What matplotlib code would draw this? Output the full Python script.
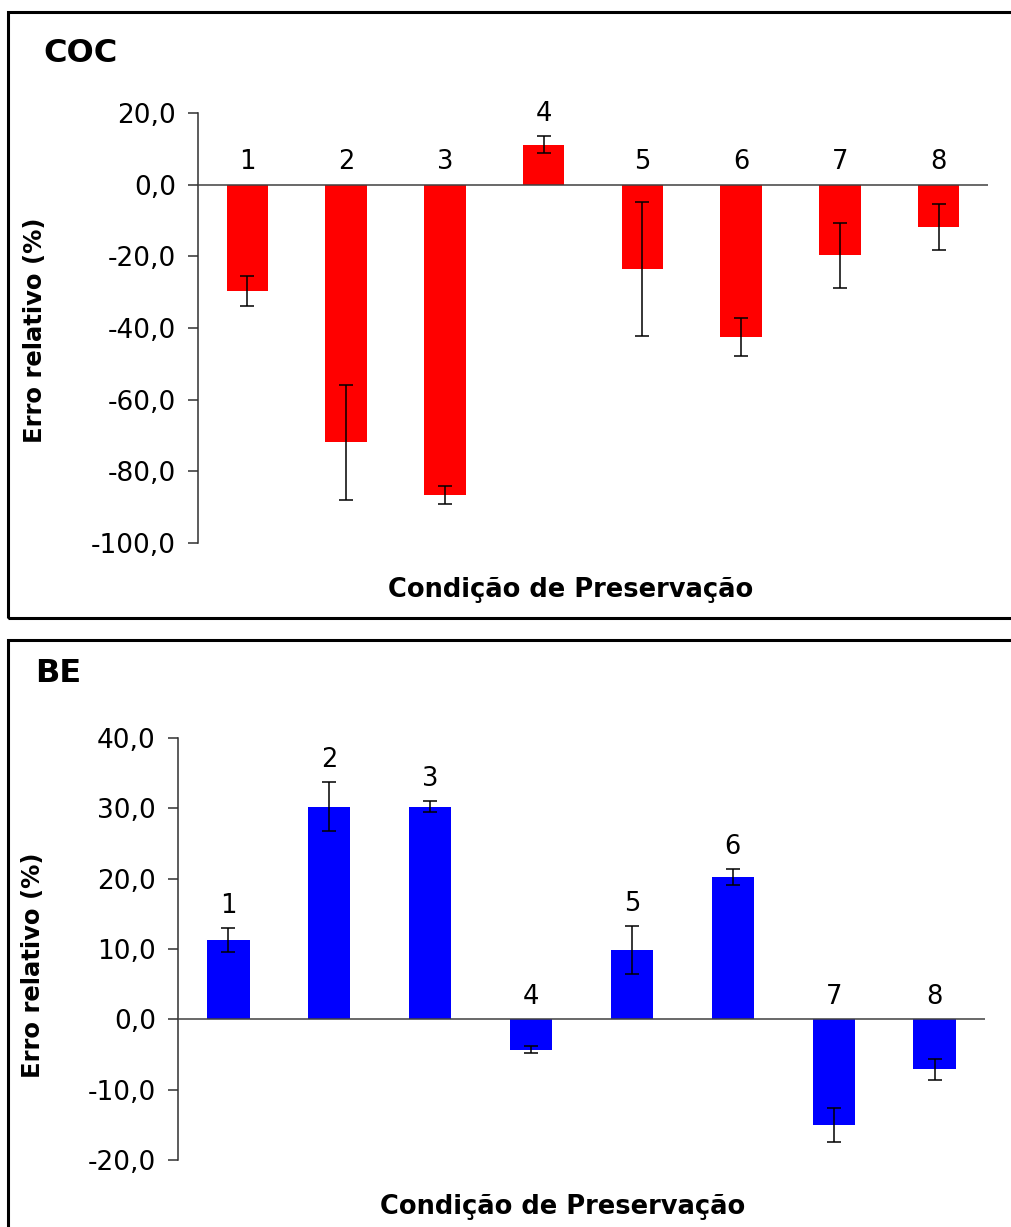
import numpy as np
import matplotlib
matplotlib.use("Agg")
import matplotlib.pyplot as plt
from matplotlib.patches import Rectangle
from matplotlib.ticker import FuncFormatter

plt.rcParams['font.family'] = ['DejaVu Sans']

# condicoes de preservacao
condicoes = ['1', '2', '3', '4', '5', '6', '7', '8']

# COC - erro relativo (%) e desvio
coc_erro = [-29.7, -71.9, -86.5, 11.2, -23.4, -42.5, -19.7, -11.8]
coc_desvio = [4.2, 16.0, 2.5, 2.4, 18.7, 5.2, 9.1, 6.5]

# BE - erro relativo (%) e desvio
be_erro = [11.3, 30.2, 30.2, -4.3, 9.8, 20.2, -15.0, -7.1]
be_desvio = [1.7, 3.5, 0.8, 0.5, 3.4, 1.1, 2.4, 1.5]

W, H = 1012, 1227
fig = plt.figure(figsize=(W / 100, H / 100), dpi=100)


def fig_box(x0, y0, x1, y1):
    # pixel coords (from top) -> figure fraction
    return [x0 / W, 1 - y1 / H, (x1 - x0) / W, (y1 - y0) / H]


def painel(ax, erro, desvio, cor, ylim, yticks):
    x = np.arange(len(condicoes))
    ax.bar(x, erro, width=0.42, color=cor, zorder=2)
    ax.errorbar(x, erro, yerr=desvio, fmt='none', ecolor='black',
                elinewidth=1.1, capsize=5, capthick=1.1, zorder=3)
    ax.axhline(0, color='#404040', lw=1.1, zorder=4)
    for xi, v, d, lab in zip(x, erro, desvio, condicoes):
        topo = v + d if v > 0 else 0
        ax.annotate(lab, (xi, topo), xytext=(0, 16), textcoords='offset points',
                    ha='center', va='center', fontsize=18.5)
    ax.set_xlim(-0.5, len(condicoes) - 0.5)
    ax.set_ylim(*ylim)
    ax.set_yticks(yticks)
    ax.yaxis.set_major_formatter(FuncFormatter(lambda v, p: f'{v:.1f}'.replace('.', ',')))
    ax.tick_params(axis='y', direction='out', length=7, width=1.1,
                   color='#303030', labelsize=19, pad=9)
    ax.set_xticks([])
    for s in ['top', 'right', 'bottom']:
        ax.spines[s].set_visible(False)
    ax.spines['left'].set_color('#303030')
    ax.spines['left'].set_linewidth(1.1)
    ax.patch.set_alpha(0)


# painel COC
ax1 = fig.add_axes(fig_box(198, 113, 988, 543))
painel(ax1, coc_erro, coc_desvio, '#FF0000', (-100, 20), np.arange(-100, 21, 20))

# painel BE
ax2 = fig.add_axes(fig_box(178, 737.7, 985, 1160.2))
painel(ax2, be_erro, be_desvio, '#0000FF', (-20, 40), np.arange(-20, 41, 10))

# molduras
fig.patches.append(Rectangle((8 / W, 1 - 618 / H), 1.2, (618 - 12) / H,
                             transform=fig.transFigure, fill=False, lw=2.2, ec='black'))
fig.patches.append(Rectangle((8 / W, -0.2), 1.2, 0.2 + (1227 - 640) / H,
                             transform=fig.transFigure, fill=False, lw=2.2, ec='black'))

# titulos e rotulos
fig.text(43 / W, 1 - 53 / H, 'COC', fontsize=23, fontweight='bold', va='center', ha='left')
fig.text(35 / W, 1 - 673 / H, 'BE', fontsize=23, fontweight='bold', va='center', ha='left')
fig.text(35 / W, 1 - 330 / H, 'Erro relativo (%)', fontsize=17.5, fontweight='bold',
         rotation=90, va='center', ha='center')
fig.text(33 / W, 1 - 965 / H, 'Erro relativo (%)', fontsize=17.5, fontweight='bold',
         rotation=90, va='center', ha='center')
fig.text(571 / W, 1 - 590 / H, 'Condição de Preservação', fontsize=18.5, fontweight='bold',
         va='center', ha='center')
fig.text(563 / W, 1 - 1207 / H, 'Condição de Preservação', fontsize=18.5, fontweight='bold',
         va='center', ha='center')

fig.savefig('out.png', dpi=100)
